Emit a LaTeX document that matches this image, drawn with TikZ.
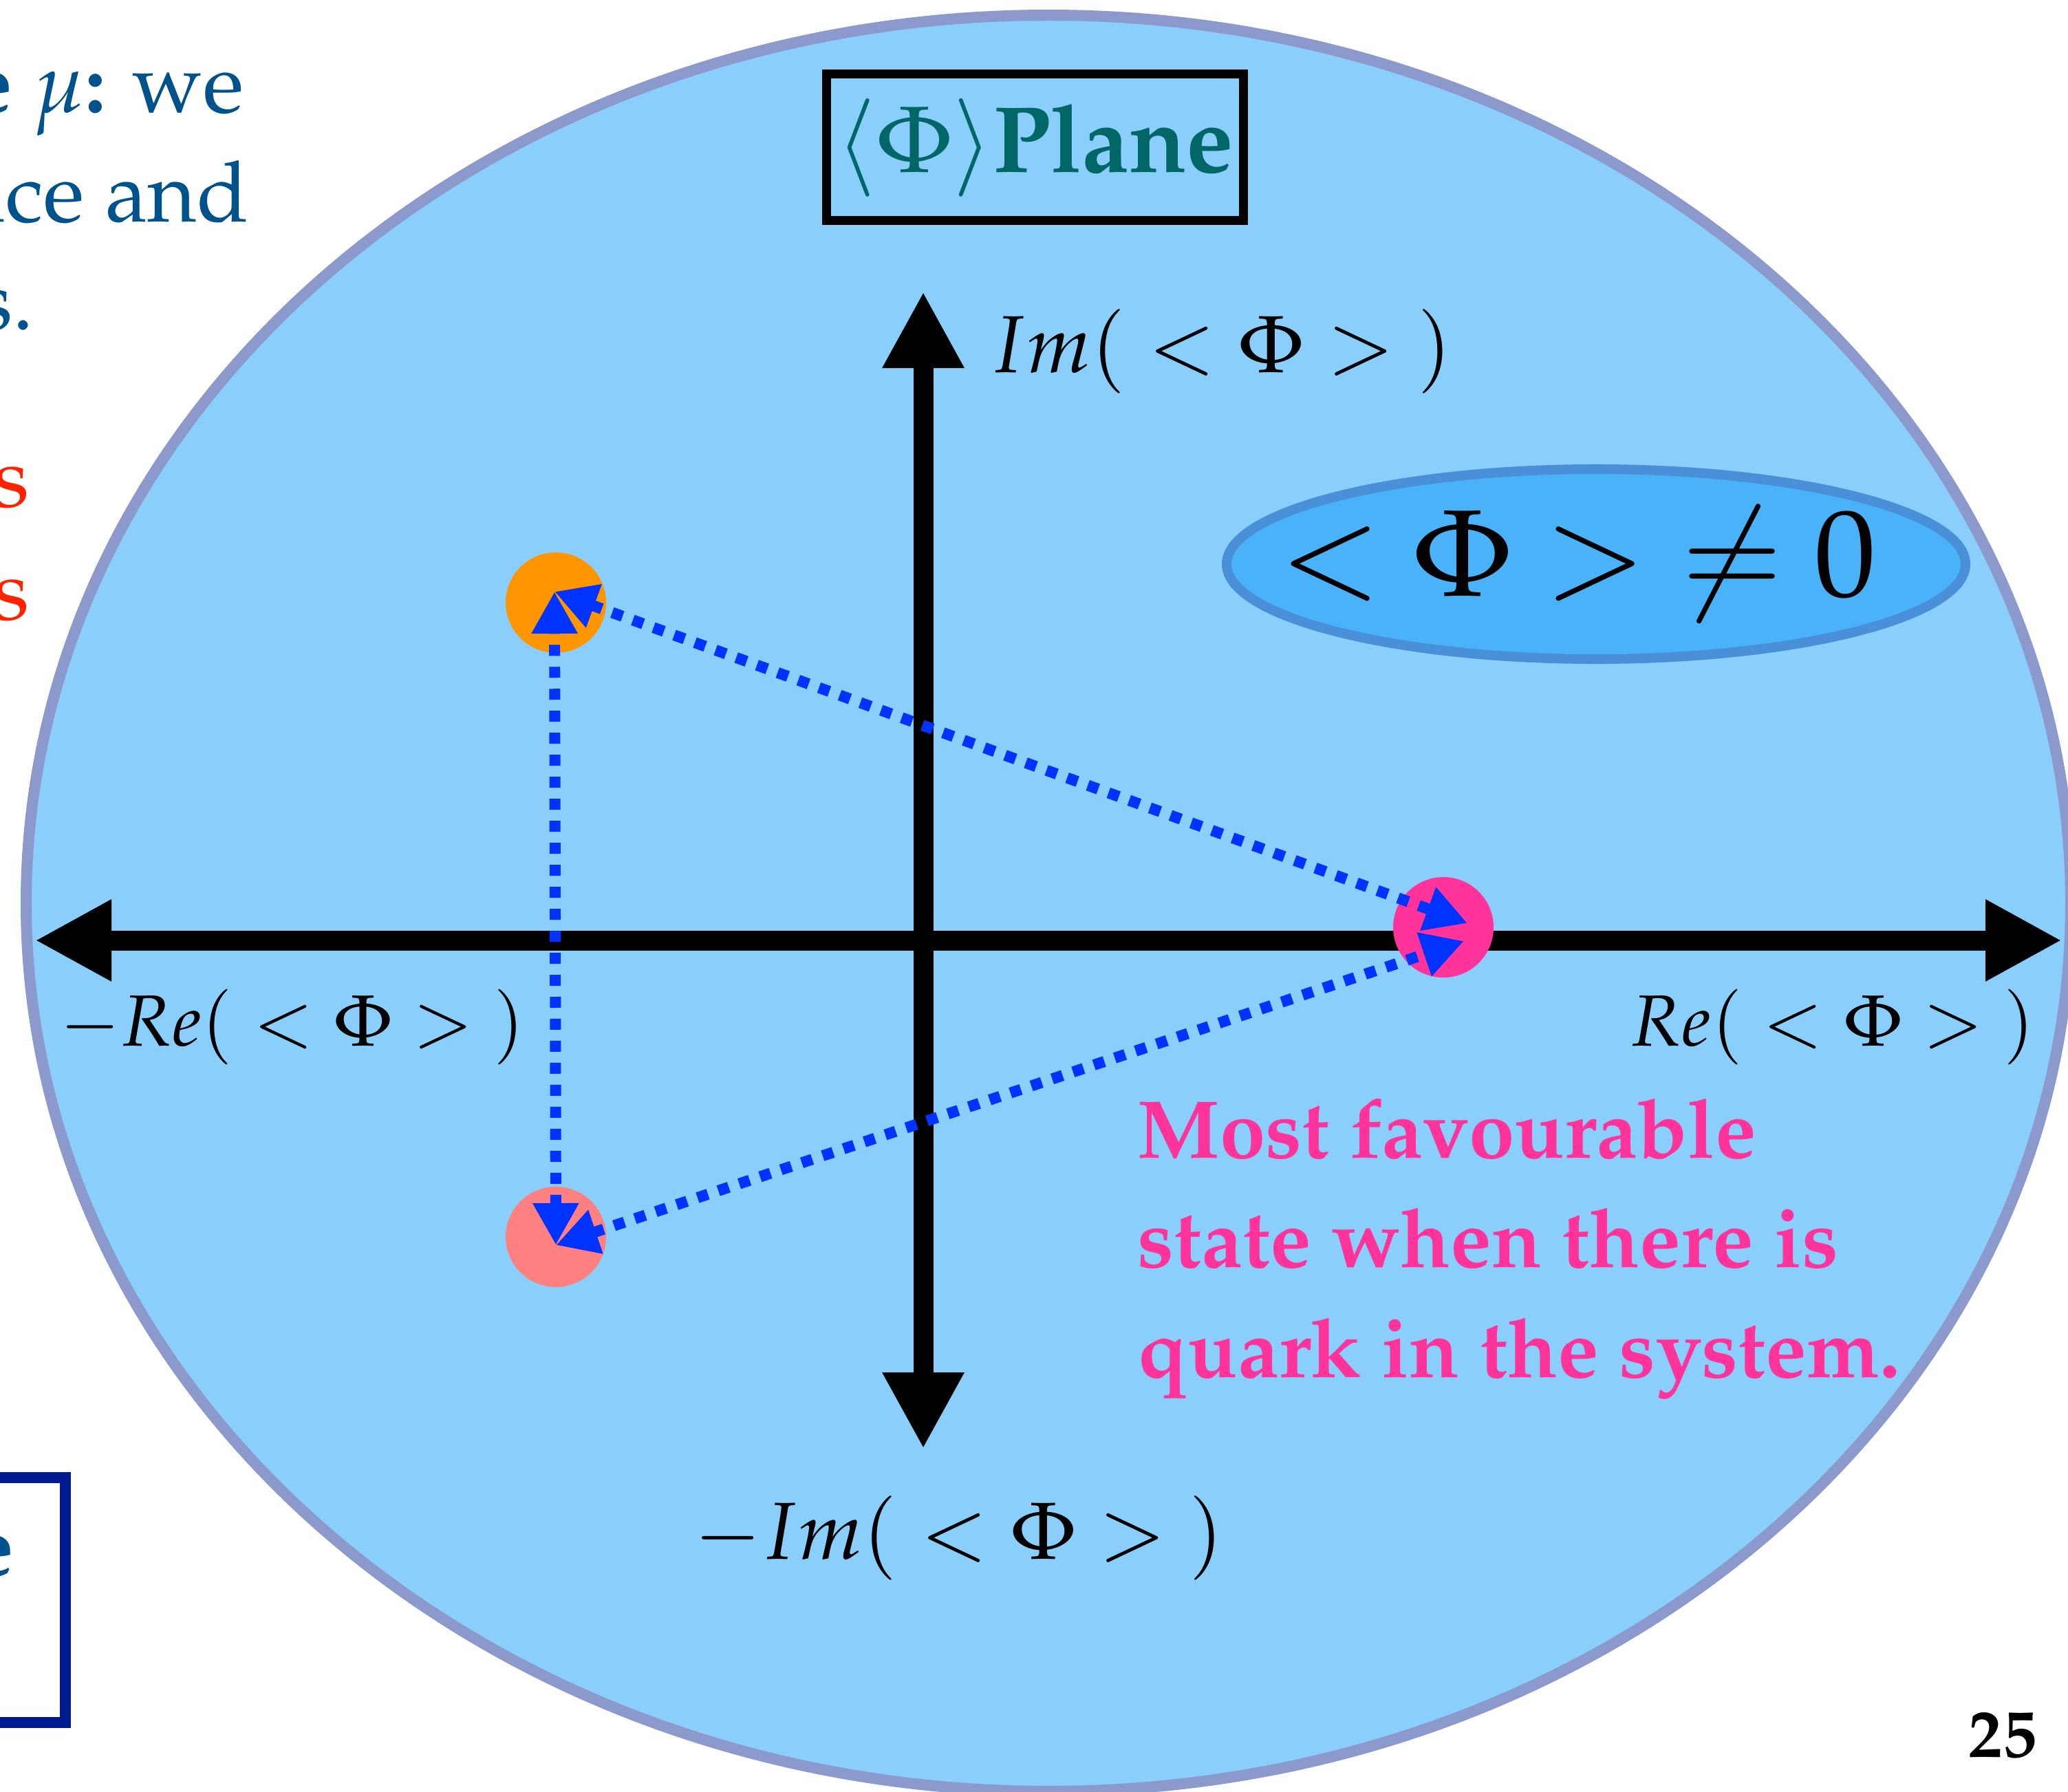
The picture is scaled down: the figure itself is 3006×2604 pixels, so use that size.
\documentclass[tikz,border=0pt]{standalone}
\usepackage[T1]{fontenc}
\usepackage{mathpazo}
\usetikzlibrary{arrows.meta,shapes.geometric}
\definecolor{plfill}{HTML}{8ACEFB}
\definecolor{plrim}{HTML}{8C99CC}
\definecolor{vevfill}{HTML}{4AB2F8}
\definecolor{vevrim}{HTML}{4A90D9}
\definecolor{plteal}{HTML}{006666}
\definecolor{linkblue}{HTML}{0033FF}
\definecolor{dotorange}{HTML}{FF9500}
\definecolor{dotsalmon}{HTML}{FF8080}
\definecolor{dotpink}{HTML}{FF3399}
\definecolor{sideblue}{HTML}{00528C}
\definecolor{sidered}{HTML}{FF2200}
\definecolor{boxnavy}{HTML}{001A8F}
\tikzset{
  pl axis/.style={{Triangle[length=11.1mm,width=11.1mm]}-{Triangle[length=11.1mm,width=11.1mm]},
    line width=8.25pt, draw=black, line cap=butt},
  pl link/.style={{Triangle[length=6.1mm,width=6.3mm]}-{Triangle[length=6.1mm,width=6.3mm]},
    line width=4.55pt, draw=linkblue, dash pattern=on 4.55pt off 4.55pt},
  pl dot/.style={circle, minimum size=14.6mm, inner sep=0pt},
  pl im/.style={font=\fontsize{33.5}{40}\selectfont, inner sep=0pt, anchor=base west},
  pl re/.style={font=\fontsize{30}{36}\selectfont, inner sep=0pt, anchor=base west},
  pl note/.style={font=\fontsize{34}{45.5}\selectfont\bfseries, text=dotpink, align=left,
    inner sep=0pt, anchor=north west},
  pl side/.style={font=\fontsize{35}{42}\selectfont, text=sideblue, inner sep=0pt, anchor=base east}
}

\begin{document}
\begin{tikzpicture}[x=0.1mm, y=-0.1mm]
  \fill[white, use as bounding box] (0,0) rectangle (3006,2604);
  % the plane
  \draw[draw=plrim, fill=plfill, line width=4.55pt] (1524,1313) ellipse [x radius=1486, y radius=1291];
  \node[draw=black, line width=3.7pt, minimum width=60.6mm, minimum height=21.3mm, text=plteal,
    font=\fontsize{39}{46}\selectfont\bfseries] (plane) at (1504,214) {$\langle\Phi\rangle$Plane};
  \node[ellipse, draw=vevrim, fill=vevfill, line width=4pt, minimum width=107.4mm,
    minimum height=27.6mm, inner sep=0pt] (vev) at (2320,820) {};
  \node[font=\fontsize{51}{60}\selectfont, inner sep=0pt] (vev text) at (2293,820)
    {${<}\mkern4.5mu\Phi\mkern4.5mu{>}\mkern4.5mu{\neq}\mkern4.5mu0$};
  % axes
  \coordinate (re left) at (51,1367);
  \coordinate (re right) at (2997,1367);
  \coordinate (im top) at (1342,424);
  \coordinate (im bottom) at (1342,2106);
  \draw[pl axis] (re left) -- (re right);
  \draw[pl axis] (im bottom) -- (im top);
  \node[pl im] (im lab) at (1438,541) {$Im(\;<\Phi>\;)$};
  \node[pl re] (mre lab) at (86,1520) {$-Re(\;<\Phi>\;)$};
  \node[pl re, anchor=base east] (re lab) at (2958,1520) {$Re(\;<\Phi>\;)$};
  \node[pl im] (mim lab) at (1008,2266) {$-Im(\;<\Phi>\;)$};
  % the three states
  \node[pl dot, fill=dotorange] (phi a) at (808,876) {};
  \node[pl dot, fill=dotsalmon] (phi b) at (808,1798) {};
  \node[pl dot, fill=dotpink] (phi c) at (2098,1348) {};
  \coordinate (a end) at (806,860);
  \coordinate (b end) at (808,1810);
  \coordinate (c end up) at (2133,1342);
  \coordinate (c end low) at (2128,1368);
  \draw[pl link] (a end) -- (c end up);
  \draw[pl link] (b end) -- (c end low);
  \draw[pl link] (b end) -- (a end);
  \node[pl note] (fav) at (1653,1596) {Most favourable\\state when there is\\quark in the system.};
  % cut-off slide text
  \node[pl side] (side a) at (355,163) {\textbf{e} $\mu$\textbf{:} we};
  \node[pl side] (side b) at (362,322) {ice and};
  \node[pl side] (side c) at (50,479) {s.};
  \node[pl side, text=sidered] (side d) at (43,736) {s};
  \node[pl side, text=sidered] (side e) at (43,900) {s};
  \draw[draw=boxnavy, line width=4.55pt] (-100,2148) rectangle (95,2504);
  \node[pl side, font=\fontsize{35}{42}\selectfont\bfseries] (side f) at (21,2290) {e};
  \node[font=\fontsize{28}{34}\selectfont\bfseries, inner sep=0pt, anchor=base east] (page) at (2961,2554) {25};
\end{tikzpicture}
\end{document}
